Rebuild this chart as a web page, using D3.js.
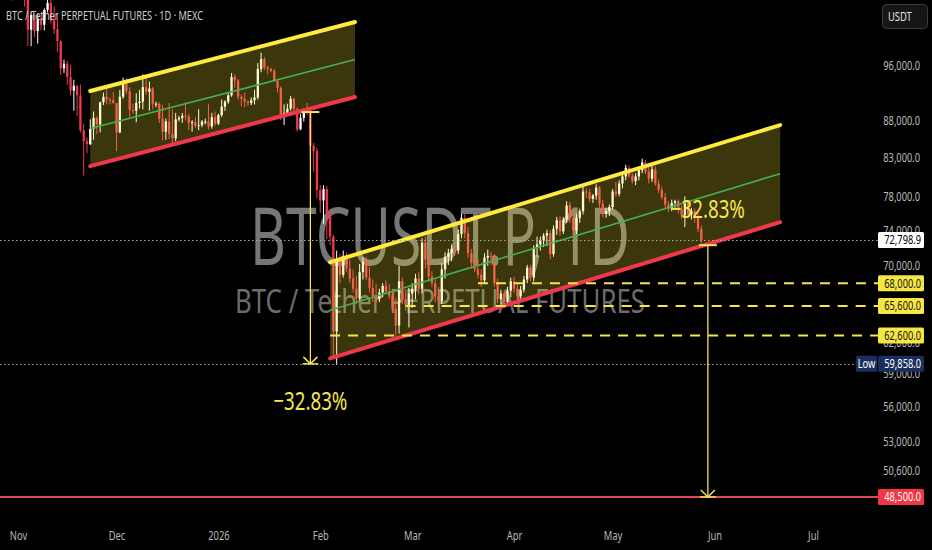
<!DOCTYPE html>
<html><head><meta charset="utf-8">
<script src="https://cdn.jsdelivr.net/npm/d3@7"></script>
<style>html,body{margin:0;padding:0;background:#000;overflow:hidden}svg{display:block}</style>
</head><body>
<svg id="c" width="932" height="550"></svg>
<script>
// ---------- DATA ----------
const startDate = "2025-10-27";
// daily [open, high, low, close] in thousands of USDT
const ohlc = [
[114.5,116.0,113.5,114.1],[114.1,116.0,112.2,112.9],[112.9,113.6,109.6,110.0],[110.0,111.6,106.3,108.3],[108.3,111.2,108.0,109.6],
[109.6,110.6,109.4,110.1],[110.1,111.2,109.7,110.6],[110.6,110.8,105.3,106.5],[106.5,107.3,98.9,101.5],[101.5,104.5,98.9,103.9],
[103.9,104.2,100.3,101.3],[101.3,104.0,99.3,103.3],[103.3,103.4,101.4,102.3],[102.3,105.0,101.4,104.7],[104.7,106.6,104.3,105.9],
[105.9,107.4,102.5,103.0],[103.0,105.3,100.8,101.6],[101.6,104.0,98.0,99.7],[99.7,99.8,94.5,95.5],[95.5,96.8,94.8,96.2],
[96.2,96.6,93.0,94.2],[94.2,96.0,91.5,92.2],[92.2,93.8,89.3,92.9],[92.9,93.0,88.6,91.5],[91.5,93.1,86.3,86.6],
[86.6,87.5,80.6,85.1],[85.1,85.6,83.5,84.7],[84.7,88.1,84.6,86.8],[86.8,89.2,85.3,88.3],[88.3,88.5,86.1,87.4],
[87.4,90.6,86.3,90.5],[90.5,91.9,90.1,91.3],[91.3,93.0,90.2,90.9],[90.9,91.2,90.2,90.8],[90.8,92.0,90.3,90.4],
[90.4,90.4,83.8,86.3],[86.3,92.3,86.2,91.3],[91.3,94.1,91.0,93.4],[93.4,94.0,91.7,92.1],[92.1,92.7,88.1,89.4],
[89.4,90.3,88.9,89.3],[89.3,91.8,87.7,90.4],[90.4,92.3,89.6,90.6],[90.6,94.6,89.5,92.7],[92.7,94.5,91.6,92.0],
[92.0,93.5,89.3,92.5],[92.5,92.7,89.5,90.3],[90.3,90.6,89.8,90.3],[90.3,90.5,87.6,88.2],[88.2,90.1,85.2,86.4],
[86.4,88.2,85.3,87.8],[87.8,90.4,85.4,86.1],[86.1,89.5,84.5,85.5],[85.5,89.0,85.1,88.1],[88.1,88.6,87.8,88.3],
[88.3,89.0,87.6,88.6],[88.6,90.5,87.9,88.5],[88.5,88.9,86.6,87.6],[87.6,88.0,86.4,87.7],[87.7,88.4,86.9,87.2],
[87.2,89.5,86.6,87.3],[87.3,88.0,87.0,87.8],[87.8,88.2,87.4,87.8],[87.8,90.3,86.7,87.1],[87.1,89.0,86.8,88.4],
[88.4,89.2,87.2,87.5],
[87.5,88.9,87.3,88.7],[88.7,90.9,88.4,89.9],[89.9,90.8,89.3,90.6],[90.6,91.8,90.3,91.5],[91.5,94.8,91.3,94.2],
[94.2,94.6,92.6,93.7],[93.7,93.9,90.9,91.3],[91.3,91.6,89.9,91.0],[91.0,91.9,89.8,90.6],[90.6,90.8,90.0,90.4],
[90.4,91.2,90.1,90.8],[90.8,92.3,90.2,91.2],[91.2,96.3,90.9,95.4],[95.4,97.9,94.9,96.9],[96.9,97.2,95.2,95.6],
[95.6,95.9,94.6,95.4],[95.4,95.6,94.9,95.1],[95.1,95.4,93.5,93.6],[93.6,93.7,91.9,92.6],[92.6,92.8,88.0,88.4],
[88.4,90.2,87.3,89.0],[89.0,90.3,88.6,89.6],[89.6,91.4,89.3,91.0],[91.0,91.2,89.2,89.5],[89.5,89.8,86.4,86.7],
[86.7,88.9,86.6,88.3],[88.3,89.6,87.8,89.3],[89.3,90.4,88.7,89.1],[89.1,89.4,83.3,84.5],[84.5,84.9,81.1,83.8],
[83.8,84.2,77.8,78.8],
[78.8,79.4,76.0,77.5],[77.5,79.4,74.7,78.9],[78.9,79.3,72.9,76.0],[76.0,76.4,72.2,73.2],[73.2,73.4,60.4,63.0],
[63.0,71.6,59.858,70.5],[70.5,71.2,68.0,68.9],[68.9,71.6,68.6,71.0],[71.0,71.4,69.2,69.6],[69.6,70.6,68.0,68.5],
[68.5,69.5,67.0,67.4],[67.4,68.8,65.8,66.4],[66.4,70.1,66.0,69.2],[69.2,70.8,68.4,70.3],[70.3,70.9,68.3,68.6],
[68.6,69.8,67.0,67.5],[67.5,68.4,66.0,66.6],[66.6,67.9,66.0,66.3],[66.3,67.4,66.0,67.0],[67.0,68.0,66.5,67.7],
[67.7,68.3,66.9,67.1],[67.1,67.9,66.3,66.7],[66.7,67.4,64.9,65.3],[65.3,66.4,62.6,63.6],[63.6,69.9,62.8,68.2],
[68.2,68.6,65.8,66.3],[66.3,67.3,65.1,65.7],[65.7,67.5,63.4,66.9],
[66.9,68.0,65.4,67.4],[67.4,69.0,66.3,68.5],[68.5,69.2,66.8,67.4],[67.4,73.0,66.9,72.5],[72.5,73.2,69.6,70.6],
[70.6,71.2,68.2,68.7],[68.7,69.3,67.6,68.0],[68.0,68.4,66.0,66.6],[66.6,67.6,65.6,66.1],[66.1,70.2,65.8,69.5],
[69.5,71.4,68.5,70.9],[70.9,71.8,70.0,71.3],[71.3,72.3,70.4,71.8],[71.8,72.3,71.0,71.6],[71.6,74.0,71.2,73.5],
[73.5,75.9,73.0,75.4],[75.4,75.9,73.0,73.6],[73.6,74.3,70.8,71.3],[71.3,71.8,69.6,70.2],[70.2,70.6,69.2,69.5],
[69.5,70.6,68.5,68.9],[68.9,69.5,67.6,68.3],[68.3,71.3,67.9,70.8],[70.8,71.7,69.9,71.0],[71.0,71.4,70.0,70.9],
[70.9,71.2,67.6,68.0],[68.0,68.5,65.9,66.3],[66.3,67.3,65.7,66.9],[66.9,67.2,65.6,66.0],[66.0,67.6,65.7,67.2],
[67.2,68.6,66.5,68.2],
[68.2,68.7,67.0,67.4],[67.4,67.9,66.2,66.6],[66.6,67.7,66.3,67.3],[67.3,68.8,67.0,68.4],[68.4,70.0,68.0,69.7],
[69.7,70.0,68.2,68.6],[68.6,72.2,68.2,71.9],[71.9,73.2,70.9,72.3],[72.3,73.2,71.6,72.8],[72.8,73.6,72.0,73.3],
[73.3,74.0,72.1,73.6],[73.6,73.9,70.6,71.2],[71.2,74.5,70.9,74.1],[74.1,75.5,73.4,75.1],[75.1,75.6,73.3,73.8],
[73.8,75.5,73.5,75.2],[75.2,77.4,74.8,76.9],[76.9,77.3,74.8,75.4],[75.4,76.0,73.2,73.9],[73.9,75.9,73.5,75.4],
[75.4,76.5,74.8,76.2],[76.2,79.3,75.8,78.6],[78.6,79.0,77.8,78.5],[78.5,78.9,77.3,77.7],[77.7,78.3,77.2,78.1],
[78.1,79.5,77.6,79.1],[79.1,79.3,76.6,77.1],[77.1,77.6,75.5,75.9],[75.9,76.6,75.4,76.2],[76.2,77.0,75.6,76.7],
[76.7,78.9,76.4,78.6],[78.6,79.8,77.9,78.3],[78.3,80.0,78.0,79.6],[79.6,80.9,79.0,80.5],[80.5,82.0,80.0,81.6],
[81.6,81.9,80.3,80.6],[80.6,80.9,79.6,79.9],[79.9,80.9,79.4,80.5],[80.5,81.6,80.0,81.3],[81.3,82.8,80.9,82.3],
[82.3,82.6,80.8,81.1],[81.1,81.9,79.6,80.2],[80.2,82.0,79.8,81.4],[81.4,81.8,79.3,79.6],[79.6,80.1,78.4,78.8],
[78.8,79.2,77.6,77.9],[77.9,78.4,76.6,77.0],[77.0,77.4,76.1,76.5],[76.5,77.6,76.2,77.2],[77.2,77.6,76.4,77.4],
[77.4,77.6,75.9,76.4],[76.4,76.9,75.3,75.7],[75.7,78.0,74.3,77.2],[77.2,77.5,75.4,75.8],[75.8,76.6,75.2,76.2],
[76.2,76.5,74.8,75.4],[75.4,76.0,73.7,74.1],[74.1,74.5,72.4,72.7989]
];
const priceTicks = [96000, 88000, 83000, 78000, 74000, 70000, 66000, 62000, 59000, 56000, 53000, 50600];
const monthTicks = ["2025-11-01","2025-12-01","2026-01-01","2026-02-01","2026-03-01","2026-04-01","2026-05-01","2026-06-01","2026-07-01"];
const monthLabels = ["Nov","Dec","2026","Feb","Mar","Apr","May","Jun","Jul"];
const channelStarts = ["2025-11-23T00:00:00Z","2026-02-04T00:00:00Z"];
const channelEnds   = ["2026-02-11T14:00:00Z","2026-06-21T00:00:00Z"];
const channelUpper  = [[92130,102760],[70290,87300]];
const channelLower  = [[81820,91260],[60380,74880]];
const levelPrices = [68000, 65600, 62600];
const levelStarts = ["2026-03-21","2026-02-27","2026-02-04"];
const targetPrice = 48500;
const lastPrice = 72798.9;
const lowPrice = 59858;
const rangeDates = ["2026-01-29","2026-05-30"];
const rangeFrom = [89120, 72210];
const rangeTo = [59858, 48500];
const rangeLabels = ["\u221232.83%","\u221232.83%"];
const titleText = "BTC / Tether PERPETUAL FUTURES \u00b7 1D \u00b7 MEXC";
const watermark1 = "BTCUSDT.P, 1D";
const watermark2 = "BTC / Tether PERPETUAL FUTURES";

// ---------- LAYOUT ----------
const W = 932, H = 550, plotRight = 878, plotBottom = 520;
const svg = d3.select("#c");
const P = s => new Date(s.length === 10 ? s + "T00:00:00Z" : s);
const x = d3.scaleUtc().domain([P("2025-11-01"), P("2026-07-01")]).range([18, 813]);
const y = d3.scaleLog().domain([48500, 96000]).range([497, 65]);
const fmt = d3.format(",.1f");
const FONT = "'Noto Sans', 'Liberation Sans', sans-serif";
const YEL = "#f7e84a", RED = "#f0384c", UP = "#ffffff";

function squeeze(sel, f) {
  sel.each(function () {
    const L = this.getComputedTextLength();
    this.setAttribute("textLength", (L * f).toFixed(2));
    this.setAttribute("lengthAdjust", "spacingAndGlyphs");
  });
}
function fitW(sel, w) { sel.attr("textLength", w).attr("lengthAdjust", "spacingAndGlyphs"); }

svg.append("rect").attr("width", W).attr("height", H).attr("fill", "#000");
svg.append("defs").append("clipPath").attr("id", "plot")
  .append("rect").attr("x", 0).attr("y", 0).attr("width", plotRight).attr("height", plotBottom);
const g = svg.append("g").attr("clip-path", "url(#plot)");

// watermark
g.append("text").attr("x", 440).attr("y", 265).attr("text-anchor", "middle")
  .attr("font-family", FONT).attr("font-size", 80).attr("fill", "#767676")
  .text(watermark1).call(fitW, 380);
g.append("text").attr("x", 440).attr("y", 313).attr("text-anchor", "middle")
  .attr("font-family", FONT).attr("font-size", 32).attr("fill", "#6c6c6c")
  .text(watermark2).call(fitW, 410);

// title
svg.append("text").attr("x", 6).attr("y", 20).attr("font-family", FONT).attr("font-size", 12.5)
  .attr("fill", "#cfcfcf").text(titleText).call(fitW, 197);

// candles
const t0 = P(startDate);
const candles = ohlc.map((d, i) => ({ date: d3.utcDay.offset(t0, i), o: d[0] * 1000, h: d[1] * 1000, l: d[2] * 1000, c: d[3] * 1000 }));
const bw = 2.3;
const cg = g.append("g");
cg.selectAll("line").data(candles).join("line")
  .attr("x1", d => x(d.date)).attr("x2", d => x(d.date))
  .attr("y1", d => y(d.h)).attr("y2", d => y(d.l))
  .attr("stroke", d => d.c >= d.o ? UP : RED).attr("stroke-width", 1);
cg.selectAll("rect").data(candles).join("rect")
  .attr("x", d => x(d.date) - bw / 2).attr("width", bw)
  .attr("y", d => y(Math.max(d.o, d.c)))
  .attr("height", d => Math.max(1, Math.abs(y(d.o) - y(d.c))))
  .attr("fill", d => d.c >= d.o ? UP : RED);

// channels
channelStarts.forEach((s, i) => {
  const x1 = x(P(s)), x2 = x(P(channelEnds[i]));
  const u1 = y(channelUpper[i][0]), u2 = y(channelUpper[i][1]);
  const l1 = y(channelLower[i][0]), l2 = y(channelLower[i][1]);
  g.append("path").attr("d", `M${x1},${u1}L${x2},${u2}L${x2},${l2}L${x1},${l1}Z`)
    .attr("fill", "rgba(255,232,50,0.23)");
  g.append("line").attr("x1", x1).attr("y1", (u1 + l1) / 2).attr("x2", x2).attr("y2", (u2 + l2) / 2)
    .attr("stroke", "#46b04e").attr("stroke-width", 1.6);
  g.append("line").attr("x1", x1).attr("y1", u1).attr("x2", x2).attr("y2", u2)
    .attr("stroke", "#ffeb3b").attr("stroke-width", 4).attr("stroke-linecap", "round");
  g.append("line").attr("x1", x1).attr("y1", l1).attr("x2", x2).attr("y2", l2)
    .attr("stroke", RED).attr("stroke-width", 4).attr("stroke-linecap", "round");
});

// dashed yellow levels
levelPrices.forEach((p, i) => {
  g.append("line").attr("x1", x(P(levelStarts[i]))).attr("x2", plotRight)
    .attr("y1", y(p)).attr("y2", y(p))
    .attr("stroke", YEL).attr("stroke-width", 2).attr("stroke-dasharray", "10,8");
});

// dotted price lines
[[lastPrice, plotRight], [lowPrice, 855]].forEach(([p, xe]) => {
  g.append("line").attr("x1", 0).attr("x2", xe).attr("y1", Math.round(y(p)) + 0.5).attr("y2", Math.round(y(p)) + 0.5)
    .attr("stroke", "#a8a8a8").attr("stroke-width", 1).attr("stroke-dasharray", "1.5,2.5");
});

// target line
svg.append("line").attr("x1", 0).attr("x2", 880).attr("y1", y(targetPrice)).attr("y2", y(targetPrice))
  .attr("stroke", "#e0475a").attr("stroke-width", 2);

// price range arrows
rangeDates.forEach((dstr, i) => {
  const xa = x(P(dstr)), ya = y(rangeFrom[i]), yb = y(rangeTo[i]);
  const a = svg.append("g").attr("stroke", "#f5e35a").attr("fill", "none");
  a.append("line").attr("x1", xa).attr("x2", xa).attr("y1", ya).attr("y2", yb).attr("stroke-width", 1.3);
  a.append("line").attr("x1", xa - 9).attr("x2", xa + 9).attr("y1", ya).attr("y2", ya).attr("stroke-width", 2);
  a.append("line").attr("x1", xa - 8).attr("x2", xa + 8).attr("y1", yb).attr("y2", yb).attr("stroke-width", 1.5);
  a.append("path").attr("d", `M${xa - 7},${yb - 7}L${xa},${yb}L${xa + 7},${yb - 7}`).attr("stroke-width", 1.5);
  const ly = i === 0 ? yb + 46 : ya - 27;
  svg.append("text").attr("x", xa).attr("y", ly).attr("text-anchor", "middle")
    .attr("font-family", FONT).attr("font-size", 26).attr("fill", YEL)
    .text(rangeLabels[i]).call(fitW, 74);
});

// price axis
const ax = svg.append("g").attr("transform", "translate(920,0)")
  .call(d3.axisRight(y).tickValues(priceTicks).tickFormat(fmt).tickSize(0));
ax.select(".domain").remove();
ax.selectAll("text").attr("x", 0).attr("text-anchor", "end").attr("dy", "0.35em")
  .attr("font-family", FONT).attr("font-size", 12.5).attr("fill", "#bdbdbd").call(squeeze, 0.74);

// time axis
const tx = svg.append("g").attr("transform", "translate(0,540)")
  .call(d3.axisBottom(x).tickValues(monthTicks.map(P)).tickFormat((d, i) => monthLabels[i]).tickSize(0));
tx.select(".domain").remove();
tx.selectAll("text").attr("y", 0).attr("dy", 0)
  .attr("font-family", FONT).attr("font-size", 12).attr("fill", "#b8b8b8").call(squeeze, 0.78);

// price label boxes
function box(price, bg, fg, x0 = 878, w = 46) {
  const yc = y(price);
  svg.append("rect").attr("x", x0).attr("y", yc - 8).attr("width", w).attr("height", 16).attr("rx", 1.5).attr("fill", bg);
  svg.append("text").attr("x", x0 + w - 3).attr("y", yc).attr("dy", "0.35em").attr("text-anchor", "end")
    .attr("font-family", FONT).attr("font-size", 12.5).attr("fill", fg).text(fmt(price)).call(squeeze, 0.74);
}
box(lastPrice, "#ffffff", "#000000");
levelPrices.forEach(p => box(p, "#f5e642", "#111111"));
box(lowPrice, "#1b2f5e", "#ffffff");
svg.append("rect").attr("x", 856).attr("y", y(lowPrice) - 8).attr("width", 21).attr("height", 16).attr("rx", 1.5).attr("fill", "#1b2f5e");
svg.append("text").attr("x", 866.5).attr("y", y(lowPrice)).attr("dy", "0.35em").attr("text-anchor", "middle")
  .attr("font-family", FONT).attr("font-size", 12).attr("fill", "#ffffff").text("Low").call(squeeze, 0.78);
box(targetPrice, "#f23645", "#ffffff");

// currency button
svg.append("rect").attr("x", 882.5).attr("y", 4.5).attr("width", 45).attr("height", 24).attr("rx", 4)
  .attr("fill", "#161616").attr("stroke", "#3c3c3c");
svg.append("text").attr("x", 888).attr("y", 17).attr("dy", "0.35em")
  .attr("font-family", FONT).attr("font-size", 12).attr("fill", "#e0e0e0").text("USDT").call(squeeze, 0.78);
</script>
</body></html>
